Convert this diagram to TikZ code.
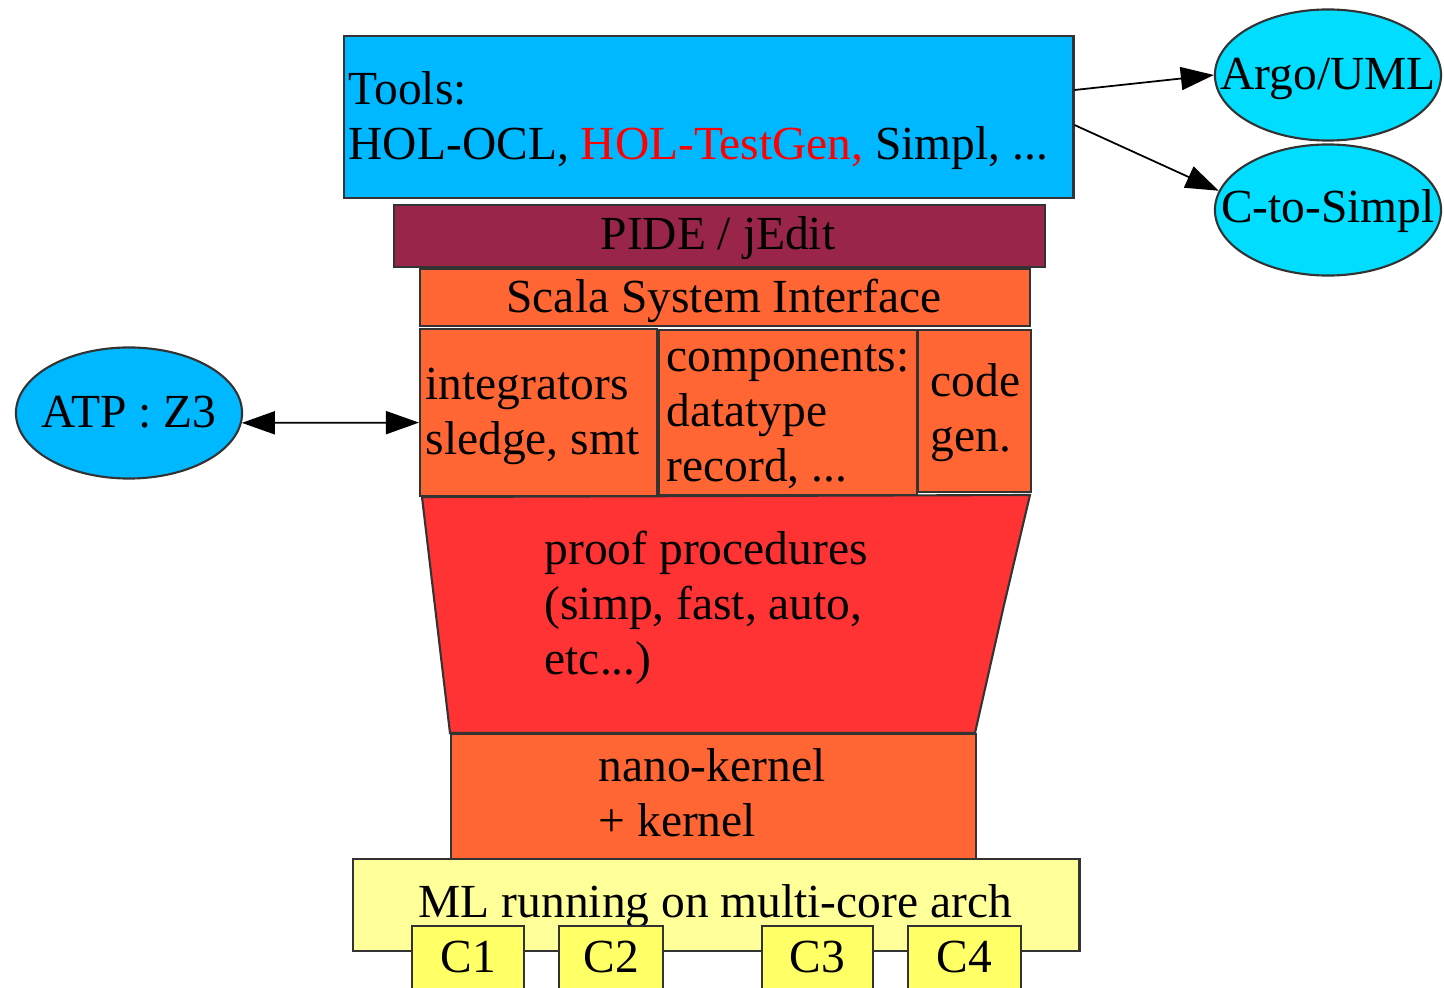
\documentclass[tikz,border=0pt]{standalone}
\usepackage{fontspec}
\setmainfont{Liberation Serif}
\usetikzlibrary{shapes.geometric,arrows.meta,calc}
\definecolor{toolblue}{RGB}{0,184,255}
\definecolor{argocyan}{RGB}{0,221,255}
\definecolor{pidered}{RGB}{153,38,72}
\definecolor{layerorange}{RGB}{255,102,51}
\definecolor{procred}{RGB}{255,51,51}
\definecolor{mlyellow}{RGB}{255,255,153}
\definecolor{coreyellow}{RGB}{255,255,102}

\begin{document}
\begin{tikzpicture}[x=0.01cm, y=-0.01cm,
    layer/.style={draw=black!80, line width=0.6pt, inner sep=0pt, anchor=north west},
    lbl/.style={inner sep=0pt, align=left, font=\fontsize{13.5}{15.65}\selectfont},
    ext/.style={ellipse, draw=black!80, line width=0.6pt, inner sep=0pt, minimum width=2.26cm, minimum height=1.31cm},
    gvtip/.tip={Triangle[length=0.33cm, width=0.23cm]},
    conn/.style={line width=0.5pt, -gvtip}]

    \useasboundingbox (0,0) rectangle (1444,988);

    % layers
    \node[layer, fill=toolblue, minimum width=7.29cm, minimum height=1.62cm] (tools) at (343,35) {};
    \node[layer, fill=pidered, minimum width=6.51cm, minimum height=0.62cm] (pide) at (393,204) {};
    \node[layer, fill=layerorange, minimum width=6.10cm, minimum height=0.57cm] (scala) at (419,268) {};
    \node[layer, fill=layerorange, minimum width=2.37cm, minimum height=1.67cm] (integ) at (419,328) {};
    \node[layer, fill=layerorange, minimum width=2.58cm, minimum height=1.65cm] (comps) at (658,329) {};
    \node[layer, fill=layerorange, minimum width=1.13cm, minimum height=1.62cm] (codegen) at (917,329) {};
    \draw[fill=procred, draw=black!80, line width=0.6pt] (422,497) -- (1030,495) -- (1004,605) -- (975,733) -- (450,733) -- cycle;
    \node[layer, fill=layerorange, minimum width=5.25cm, minimum height=1.25cm] (kernel) at (450,733) {};
    \node[layer, fill=mlyellow, minimum width=7.26cm, minimum height=0.92cm] (ml) at (352,858) {};

    % texts (base = last line)
    \node[lbl, anchor=base west] (toolstxt) at (348,160) {Tools:\\HOL-OCL, \textcolor{red}{HOL-TestGen,} Simpl, ...};
    \node[lbl, anchor=base] (pidetxt) at (718,250) {PIDE / jEdit};
    \node[lbl, anchor=base] (scalatxt) at (724,313) {Scala System Interface};
    \node[lbl, anchor=base west] (integtxt) at (425,455) {integrators\\sledge, smt};
    \node[lbl, anchor=base west] (compstxt) at (666,482) {components:\\datatype\\record, ...};
    \node[lbl, anchor=base west] (codegentxt) at (930,452) {code\\gen.};
    \node[lbl, anchor=base west] (proctxt) at (544,675) {proof procedures\\(simp, fast, auto,\\etc...)};
    \node[lbl, anchor=base west] (kerneltxt) at (598,837) {nano-kernel\\+ kernel};
    \node[lbl, anchor=base west] (mltxt) at (418,918) {ML running on multi-core arch};

    % cores
    \foreach \x/\w/\n in {411/1.12/1, 558/1.04/2, 761/1.11/3, 907/1.13/4} {
        \node[layer, fill=coreyellow, minimum width=\w cm, minimum height=0.75cm] (c\n) at (\x,925) {};
        \node[lbl, anchor=base] (c\n txt) at ($(c\n.north)+(0,47)$) {C\n};
    }

    % external tools
    \node[ext, fill=argocyan] (argo) at (1328,75) {};
    \node[lbl, anchor=base] (argotxt) at ($(argo.center)+(0,15)$) {Argo/UML};
    \node[ext, fill=argocyan] (ctosimpl) at (1328,210) {};
    \node[lbl, anchor=base] (ctosimpltxt) at ($(ctosimpl.center)+(0,13)$) {C-to-Simpl};
    \node[ext, fill=toolblue] (atp) at (129,413) {};
    \node[lbl, anchor=base] (atptxt) at ($(atp.center)+(0,15)$) {ATP : Z3};

    \coordinate (tout1) at ($(tools.north east)+(0,55)$);
    \coordinate (tout2) at ($(tools.north east)+(0,90)$);
    \draw[conn] (tout1) -- (argo.west);
    \draw[conn] (tout2) -- (ctosimpl.170);
    \draw[line width=0.5pt, gvtip-gvtip] (atp.-5) -- ($(integ.west)+(0,10)$);
\end{tikzpicture}
\end{document}
